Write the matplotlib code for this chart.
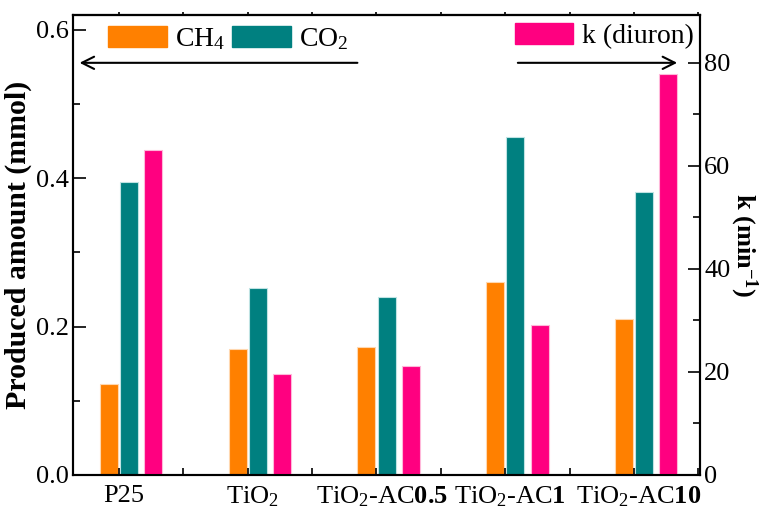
import numpy as np
import matplotlib
matplotlib.use('Agg')
from matplotlib import pyplot as plt
from matplotlib.patches import Patch
from matplotlib.ticker import MultipleLocator

plt.rcParams['font.family'] = ['Liberation Serif', 'DejaVu Serif']
plt.rcParams['mathtext.fontset'] = 'custom'
plt.rcParams['mathtext.rm'] = 'Liberation Serif'
plt.rcParams['mathtext.it'] = 'Liberation Serif:italic'
plt.rcParams['mathtext.bf'] = 'Liberation Serif:bold'

# data
samples = ['P25', 'TiO$_2$', 'TiO$_2$-AC$\\mathbf{0.5}$',
           'TiO$_2$-AC$\\mathbf{1}$', 'TiO$_2$-AC$\\mathbf{10}$']
ch4 = [0.122, 0.170, 0.173, 0.260, 0.210]
co2 = [0.395, 0.252, 0.240, 0.455, 0.382]
k_diuron = [63.1, 19.6, 21.2, 29.2, 77.9]

ORANGE = '#FF8000'
TEAL = '#008080'
PINK = '#FF0080'
FS_TICK = 19
FS_LEG = 20

x = np.arange(1, len(samples) + 1)
w = 0.14

fig = plt.figure(figsize=(7.59, 5.13), dpi=100)
ax = fig.add_axes([0.0962, 0.0741, 0.8261, 0.8967])
ax2 = ax.twinx()

ax.bar(x - 0.078, ch4, w, color=ORANGE, edgecolor='#FFD8B0', linewidth=0.8)
ax.bar(x + 0.078, co2, w, color=TEAL, edgecolor='#BFE3E3', linewidth=0.8)
ax2.bar(x + 0.268, k_diuron, w, color=PINK, edgecolor='#FFB8DA', linewidth=0.8)

ax.set_xlim(0.643, 5.513)
ax.set_ylim(0, 0.62)
ax2.set_ylim(0, 89.3)

# labels sit a little right of the group position, major ticks hidden behind bars
ax.set_xticks(x + 0.04)
ax.set_xticklabels(samples, fontsize=FS_TICK)
ax.xaxis.set_minor_locator(MultipleLocator(0.5))
ax.tick_params(axis='x', which='major', length=0, pad=7, top=False)
ax.tick_params(axis='x', which='minor', direction='in', length=5, width=1.2, top=False)

ax.yaxis.set_major_locator(MultipleLocator(0.2))
ax.yaxis.set_minor_locator(MultipleLocator(0.1))
ax.tick_params(axis='y', which='major', direction='in', length=9, width=1.2,
               labelsize=FS_TICK, pad=3)
ax.tick_params(axis='y', which='minor', direction='in', length=5, width=1.2)

ax2.yaxis.set_major_locator(MultipleLocator(20))
ax2.yaxis.set_minor_locator(MultipleLocator(10))
ax2.tick_params(axis='y', which='major', direction='in', length=9, width=1.2,
                labelsize=FS_TICK, pad=3)
ax2.tick_params(axis='y', which='minor', direction='in', length=5, width=1.2)

# small ticks on the top frame
top = ax.secondary_xaxis('top')
top.set_xticks(np.arange(1, 5.6, 0.5))
top.tick_params(direction='out', length=2, width=1.2, labeltop=False)

for a in (ax, ax2):
    for s in a.spines.values():
        s.set_linewidth(1.5)
top.spines['top'].set_linewidth(1.5)

ax.set_ylabel('Produced amount (mmol)', fontsize=21.5, fontweight='bold', labelpad=3)
ax2.set_ylabel('k (min$^{\\mathbf{-1}}$)', fontsize=19, fontweight='bold',
               rotation=270, labelpad=21)

leg1 = ax.legend(handles=[Patch(color=ORANGE, label='CH$_4$'),
                          Patch(color=TEAL, label='CO$_2$')],
                 loc='upper left', bbox_to_anchor=(0.03, 1.012), ncol=2, frameon=False,
                 fontsize=FS_LEG, handlelength=2.1, handleheight=0.75, handletextpad=0.3,
                 columnspacing=0.25, borderaxespad=0.2)
leg2 = ax2.legend(handles=[Patch(color=PINK, label='k (diuron)')],
                  loc='upper right', bbox_to_anchor=(1.012, 1.012), frameon=False,
                  fontsize=FS_LEG, handlelength=2.1, handleheight=0.75, handletextpad=0.3,
                  borderaxespad=0.1)

# arrows pointing to the matching axis
ax.annotate('', xy=(0.006, 0.896), xytext=(0.458, 0.896), xycoords='axes fraction',
            arrowprops=dict(arrowstyle='->', lw=1.5, color='black', mutation_scale=22))
ax.annotate('', xy=(0.968, 0.896), xytext=(0.705, 0.896), xycoords='axes fraction',
            arrowprops=dict(arrowstyle='->', lw=1.5, color='black', mutation_scale=22))

fig.savefig('out.png', dpi=100)
